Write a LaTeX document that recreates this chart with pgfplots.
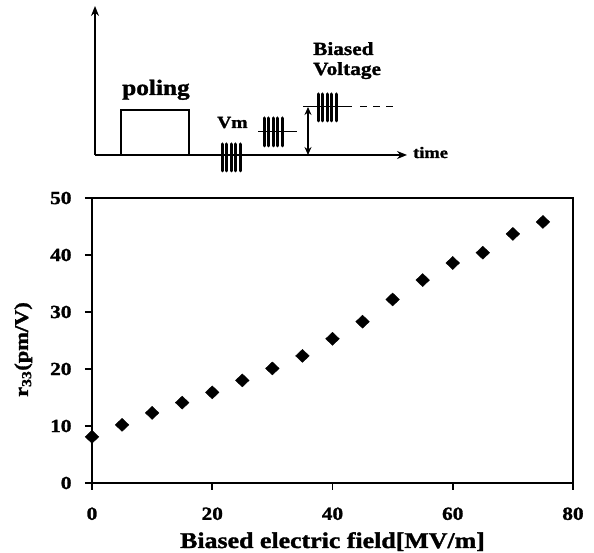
\documentclass[border=0pt]{standalone}
\usepackage{fontspec}
\setmainfont{Liberation Serif}[FakeStretch=1.15, BoldFeatures={FakeBold=1.5}]
\usepackage{pgfplots}
\pgfplotsset{compat=1.18}
\usetikzlibrary{arrows.meta}
\begin{document}
\begin{tikzpicture}[x=1pt,y=1pt]
\useasboundingbox (-92,-70) rectangle (502,483);
\begin{axis}[
  at={(0pt,0pt)}, anchor=south west,
  scale only axis, width=481pt, height=285pt,
  xmin=0, xmax=80, ymin=0, ymax=50,
  xtick={0,20,40,60,80}, ytick={0,10,20,30,40,50},
  tick pos=left, tick align=outside,
  major tick length=7pt,
  axis line style={line width=1.6pt},
  every tick/.style={black, line width=1.6pt},
  /pgf/number format/assume math mode=true,
  tick label style={font=\bfseries\fontsize{18.5}{22}\selectfont},
  xticklabel style={yshift=-14pt},
  yticklabel style={xshift=-10pt},
  xlabel={Biased electric field[MV/m]},
  xlabel style={font=\bfseries\fontsize{22.5}{26}\selectfont, at={([yshift=-65pt]axis description cs:0.5,0)}, anchor=base},
  ylabel={r\textsubscript{33}(pm/V)},
  ylabel style={font=\bfseries\fontsize{19.5}{23}\selectfont, at={([xshift=-64pt,yshift=-9pt]axis description cs:0,0.5)}, anchor=base},
  clip=false,
]
\addplot[only marks, mark=diamond*, mark size=6.5pt, mark options={xscale=1.4, fill=black, draw=black}]
coordinates {
(0,8.1) (5,10.2) (10,12.3) (15,14.1) (20,15.9) (25,18.0) (30,20.1) (35,22.3)
(40,25.3) (45,28.3) (50,32.2) (55,35.6) (60,38.6) (65,40.4) (70,43.7) (75,45.8)
};
\end{axis}
% schematic (pixel coordinates of the reference)
\begin{axis}[
  at={(-92pt,-70pt)}, anchor=south west,
  scale only axis, width=594pt, height=553pt,
  xmin=0, xmax=594, ymin=0, ymax=553, y dir=reverse,
  hide axis, clip=false,
]
\draw[line width=1.6pt, -{Stealth[length=10pt,width=8pt]}] (axis cs:95,155) -- (axis cs:95,6);
\draw[line width=1.6pt, -{Stealth[length=10pt,width=8pt]}] (axis cs:95,155) -- (axis cs:407,155);
\draw[line width=1.6pt] (axis cs:121,155) -- (axis cs:121,110) -- (axis cs:189,110) -- (axis cs:189,155);
\draw[line width=1.3pt] (axis cs:258,131.5) -- (axis cs:297,131.5);
\draw[line width=1.3pt] (axis cs:303,106.5) -- (axis cs:352,106.5);
\draw[line width=1.3pt, dash pattern=on 7pt off 6pt] (axis cs:360,106.5) -- (axis cs:398,106.5);
\draw[line width=1.3pt, {Stealth[length=8pt,width=7pt]}-{Stealth[length=8pt,width=7pt]}] (axis cs:308,107) -- (axis cs:308,155);
\pgfplotsinvokeforeach{222,226.5,231,235.5,240}{
  \draw[line width=3pt, line cap=round] (axis cs:#1,144) -- (axis cs:#1,171);
}
\pgfplotsinvokeforeach{264,268.5,273,277.5,282}{
  \draw[line width=3pt, line cap=round] (axis cs:#1,118) -- (axis cs:#1,146);
}
\pgfplotsinvokeforeach{318,322.5,327,331.5,336}{
  \draw[line width=3pt, line cap=round] (axis cs:#1,94) -- (axis cs:#1,121);
}
\node[anchor=base west, font=\bfseries\fontsize{22}{26}\selectfont, inner sep=0pt] at (axis cs:122,95) {poling};
\node[anchor=base west, font=\bfseries\fontsize{17}{20}\selectfont, inner sep=0pt] at (axis cs:217,128) {Vm};
\node[anchor=base west, font=\bfseries\fontsize{18.5}{22}\selectfont, inner sep=0pt] at (axis cs:313,55) {Biased};
\node[anchor=base west, font=\bfseries\fontsize{18.5}{22}\selectfont, inner sep=0pt] at (axis cs:313,75) {Voltage};
\node[anchor=base west, font=\bfseries\fontsize{16}{19}\selectfont, inner sep=0pt] at (axis cs:413,158) {time};
\end{axis}
\end{tikzpicture}
\end{document}
